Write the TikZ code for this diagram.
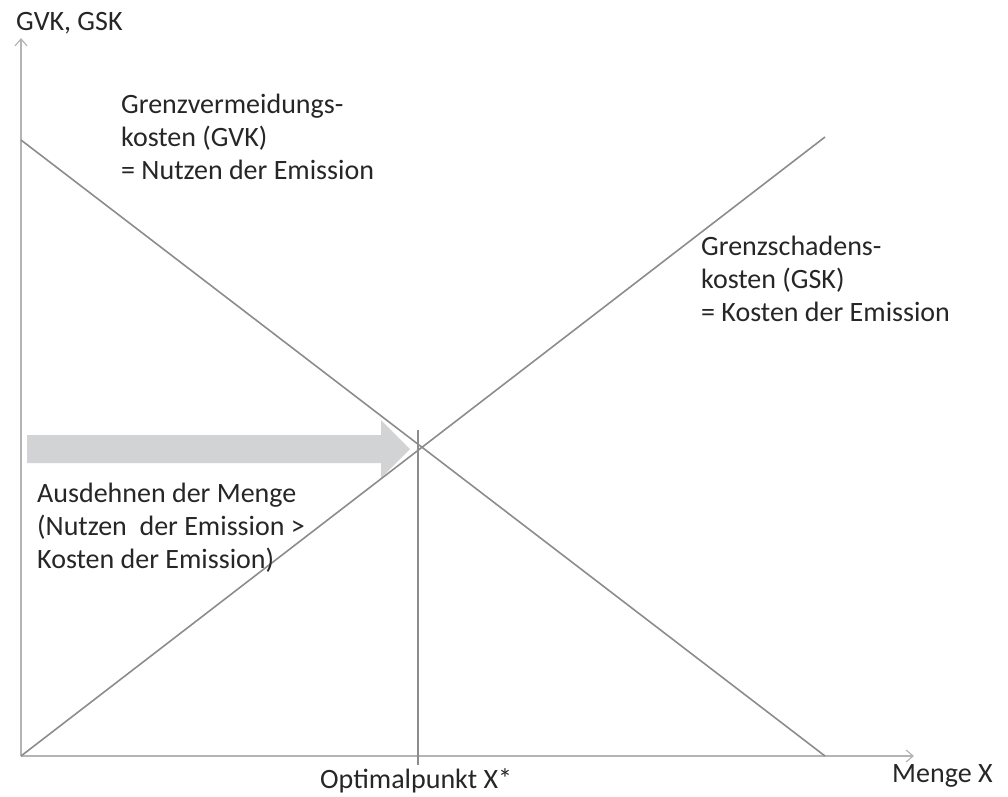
\documentclass[tikz,border=0pt]{standalone}
\usepackage{fontspec}
\setmainfont{Carlito}
\usetikzlibrary{arrows.meta}
\definecolor{axisgray}{HTML}{B4B4B4}
\definecolor{linegray}{HTML}{8C8C8C}
\definecolor{arrowfill}{HTML}{D2D3D5}
\definecolor{txt}{HTML}{262626}
\begin{document}
\begin{tikzpicture}[x=1pt,y=-1pt,
  axis/.style={draw=axisgray,line width=1.6pt},
  curve/.style={draw=linegray,line width=1.6pt},
  barb/.style={-{Straight Barb[length=7pt,width=12pt,line width=1.2pt]}},
  lbl/.style={text=txt,font=\fontsize{28}{33}\selectfont,align=left,inner sep=0pt}]
\useasboundingbox (0,0) rectangle (1008,796);
% coordinates
\coordinate (O) at (21,756);
\coordinate (Ytip) at (21,38);
\coordinate (Xtip) at (914,756);
\coordinate (GSKend) at (825,137);
\coordinate (GVKstart) at (21,140);
\coordinate (GVKend) at (825,756);
\coordinate (Vtop) at (418,430);
\coordinate (Vbot) at (418,765);
% gray arrow
\fill[arrowfill] (27,435) -- (381,435) -- (381,420) -- (410,449) -- (381,478)
  -- (381,463) -- (27,463) -- cycle;
% axes
\draw[axis,barb] (O) -- (Ytip);
\draw[axis,barb] (O) -- (Xtip);
% curves
\draw[curve] (O) -- (GSKend);
\draw[curve] (GVKstart) -- (GVKend);
\draw[curve] (Vtop) -- (Vbot);
% labels (multi-line nodes: base anchor = last line's baseline)
\node[lbl,anchor=base west] (ylab) at (16,30) {GVK, GSK};
\node[lbl,anchor=base west] (xlab) at (892,782) {Menge X};
\node[lbl,anchor=base west] (opt) at (320,788) {Optimalpunkt X*};
\node[lbl,anchor=base west] (gvk) at (121,179) {Grenzvermeidungs-\\kosten (GVK)\\= Nutzen der Emission};
\node[lbl,anchor=base west] (gsk) at (701,321) {Grenzschadens-\\kosten (GSK)\\= Kosten der Emission};
\node[lbl,anchor=base west] (aus) at (37,568) {Ausdehnen der Menge\\(Nutzen~ der Emission >\\Kosten der Emission)};
\end{tikzpicture}
\end{document}
